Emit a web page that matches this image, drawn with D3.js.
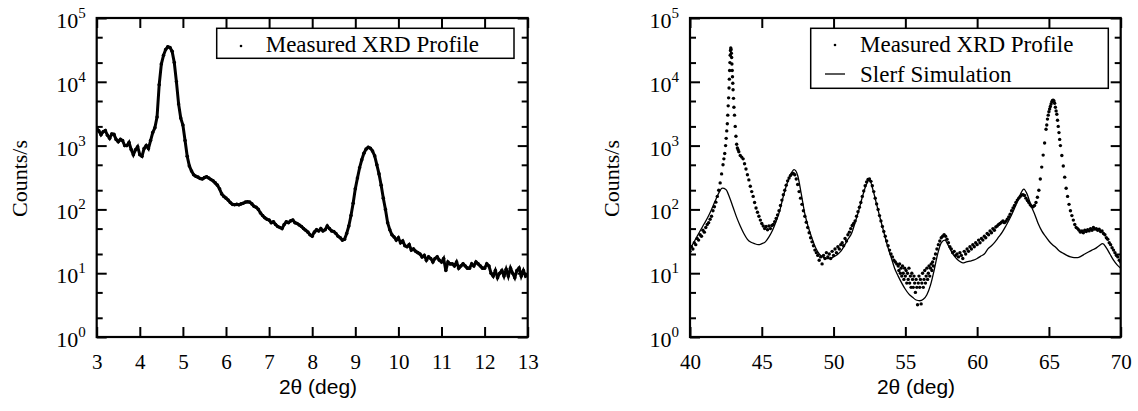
<!DOCTYPE html>
<html>
<head>
<meta charset="utf-8">
<script src="https://cdn.jsdelivr.net/npm/d3@7"></script>
<style>
  body { margin: 0; background: #fff; }
  svg { display: block; }
  .serif { font-family: "Liberation Serif", "Times New Roman", serif; }
  .sans { font-family: "Liberation Sans", Arial, sans-serif; }
</style>
</head>
<body>
<div id="chart"></div>
<script>
// ---- data ----
// left panel: measured profile, 3..13 deg every 0.05 deg (counts/s)
const lowAngleStart = 3, lowAngleStep = 0.05;
const lowAngleCounts = [
  1850, 1700, 1480, 1650, 1720, 1450, 1300, 1520, 1500, 1250,
  1150, 1250, 1200, 1000, 1000, 1120, 870, 720, 860, 960,
  720, 680, 900, 1000, 900, 1200, 1600, 1900, 2800, 9000,
  19000, 26000, 32000, 35500, 34500, 30000, 20000, 10000, 4500, 2700,
  2100, 1200, 680, 480, 400, 350, 330, 320, 305, 300,
  315, 325, 310, 295, 280, 260, 240, 210, 175, 160,
  150, 140, 128, 120, 118, 120, 118, 122, 125, 130,
  132, 130, 122, 112, 108, 100, 88, 80, 74, 70,
  68, 62, 64, 58, 54, 52, 50, 58, 64, 62,
  66, 68, 62, 60, 57, 54, 50, 47, 44, 40,
  38, 44, 48, 46, 50, 46, 48, 55, 50, 46,
  45, 42, 38, 36, 33, 34, 42, 55, 80, 125,
  210, 310, 450, 600, 760, 880, 940, 910, 820, 690,
  500, 360, 240, 150, 100, 62, 48, 40, 37, 33,
  36, 30, 32, 27, 26, 28, 23, 24, 22, 21,
  20, 18, 19, 16, 18, 17, 15, 17, 18, 16,
  15, 17, 11, 15, 14, 14, 13, 15, 12, 13,
  14, 13, 12, 12, 14, 13, 15, 14, 13, 12,
  12, 14, 13, 10, 9, 11, 8.5, 10, 11, 9,
  11.5, 9, 12, 10, 8.5, 11, 12, 9, 11, 9,
  9.5
];

// right panel: measured profile [2theta, counts/s]
const highAngleMeasured = [
  [40.0,22],[40.1,26],[40.2,24],[40.3,30],[40.4,28],[40.5,35],[40.6,33],[40.7,40],[40.8,38],[40.9,47],
  [41.0,44],[41.1,52],[41.2,58],[41.3,62],[41.4,70],[41.5,78],[41.6,95],[41.7,110],[41.8,130],[41.9,160],
  [42.0,200],[42.1,260],[42.2,360],[42.3,500],[42.36,620],[42.42,750],[42.48,1000],[42.52,1300],[42.56,1700],[42.6,2200],
  [42.63,3000],[42.66,4200],[42.69,5600],[42.72,8000],[42.74,11000],[42.76,15000],[42.78,20000],[42.8,26000],[42.82,31000],[42.84,34000],
  [42.86,32000],[42.88,28000],[42.9,24000],[42.92,19000],[42.94,15000],[42.96,12000],[42.98,9500],[43.0,7500],[43.03,5500],[43.06,4000],
  [43.1,3000],[43.15,2000],[43.2,1400],[43.25,1050],[43.3,920],[43.35,860],[43.4,800],[43.5,700],[43.6,660],[43.7,620],
  [43.8,520],[43.9,430],[44.0,350],[44.1,290],[44.2,230],[44.3,190],[44.4,160],[44.5,128],[44.6,105],[44.7,90],
  [44.8,78],[44.9,68],[45.0,60],[45.1,55],[45.2,50],[45.3,54],[45.4,48],[45.5,55],[45.6,50],[45.7,56],
  [45.8,58],[45.9,64],[46.0,72],[46.1,82],[46.2,95],[46.3,115],[46.4,140],[46.5,170],[46.6,200],[46.7,240],
  [46.8,280],[46.9,310],[47.0,340],[47.1,360],[47.2,365],[47.3,350],[47.4,300],[47.5,245],[47.6,190],[47.7,150],
  [47.8,120],[47.9,95],[48.0,78],[48.1,63],[48.2,52],[48.3,43],[48.4,36],[48.5,31],[48.6,27],[48.7,23],
  [48.8,21],[48.9,19],[49.0,16],[49.1,18],[49.2,14],[49.3,19],[49.4,17],[49.5,21],[49.6,18],[49.7,20],
  [49.8,17],[49.9,22],[50.0,19],[50.1,24],[50.2,21],[50.3,26],[50.4,24],[50.5,28],[50.6,30],[50.7,27],
  [50.8,35],[50.9,32],[51.0,40],[51.1,44],[51.2,50],[51.3,56],[51.4,60],[51.5,66],[51.6,78],[51.7,92],
  [51.8,108],[51.9,128],[52.0,160],[52.1,195],[52.2,235],[52.3,270],[52.4,295],[52.5,300],[52.6,275],[52.7,235],
  [52.8,190],[52.9,150],[53.0,122],[53.1,100],[53.2,80],[53.3,66],[53.4,54],[53.5,45],[53.6,38],[53.7,32],
  [53.8,27],[53.9,23],[54.0,20],[54.1,18],[54.2,16],[54.3,15],[54.4,14],[54.5,13],[54.55,11],[54.6,14],
  [54.65,10],[54.7,12],[54.75,9],[54.8,13],[54.85,10],[54.9,8],[54.95,12],[55.0,9],[55.05,11],[55.1,7],
  [55.15,10],[55.2,8],[55.25,12],[55.3,7],[55.35,9],[55.4,6],[55.45,10],[55.5,8],[55.55,6],[55.6,9],
  [55.65,7],[55.7,5],[55.75,8],[55.8,6],[55.85,3.2],[55.9,7],[55.95,9],[56.0,6],[56.05,8],[56.1,3.3],
  [56.15,7],[56.2,10],[56.25,6],[56.3,8],[56.35,11],[56.4,7],[56.45,9],[56.5,12],[56.55,8],[56.6,10],
  [56.65,13],[56.7,9],[56.75,12],[56.8,14],[56.85,11],[56.9,15],[56.95,13],[57.0,17],[57.1,20],[57.2,24],
  [57.3,28],[57.4,32],[57.5,36],[57.6,38],[57.7,40],[57.8,38],[57.9,34],[58.0,30],[58.1,26],[58.2,24],
  [58.3,21],[58.4,22],[58.5,19],[58.6,20],[58.7,18],[58.8,21],[58.9,19],[59.0,17],[59.1,22],[59.2,20],
  [59.3,24],[59.4,22],[59.5,26],[59.6,24],[59.7,28],[59.8,26],[59.9,30],[60.0,28],[60.1,33],[60.2,30],
  [60.3,35],[60.4,33],[60.5,38],[60.6,36],[60.7,42],[60.8,40],[60.9,46],[61.0,43],[61.1,50],[61.2,47],
  [61.3,53],[61.4,55],[61.5,58],[61.6,60],[61.7,63],[61.8,66],[61.9,62],[62.0,65],[62.1,70],[62.2,76],
  [62.3,84],[62.4,95],[62.5,105],[62.6,115],[62.7,128],[62.8,140],[62.9,150],[63.0,160],[63.1,168],[63.2,170],
  [63.3,165],[63.4,150],[63.5,138],[63.6,128],[63.7,118],[63.8,112],[63.9,110],[64.0,115],[64.1,128],[64.2,155],
  [64.3,200],[64.4,300],[64.5,460],[64.6,710],[64.7,1100],[64.8,1800],[64.85,2100],[64.9,2600],[64.95,3000],[65.0,3400],
  [65.05,3750],[65.1,4100],[65.15,4500],[65.2,4850],[65.25,5100],[65.3,5150],[65.35,5000],[65.4,4600],[65.45,4000],[65.5,3500],
  [65.55,3100],[65.6,2500],[65.65,2000],[65.7,1600],[65.75,1250],[65.8,1000],[65.9,700],[66.0,480],[66.1,320],[66.2,215],
  [66.3,160],[66.4,120],[66.5,95],[66.6,80],[66.7,68],[66.8,58],[66.9,52],[67.0,50],[67.1,47],[67.2,44],
  [67.3,46],[67.4,43],[67.5,47],[67.6,45],[67.7,48],[67.8,46],[67.9,50],[68.0,47],[68.1,52],[68.2,49],
  [68.3,50],[68.4,47],[68.5,49],[68.6,45],[68.7,46],[68.8,42],[68.9,40],[69.0,36],[69.1,34],[69.2,30],
  [69.3,28],[69.4,25],[69.5,23],[69.6,21],[69.7,19],[69.8,18],[69.9,16],[70.0,15]
];

// right panel: Slerf simulation, 40..70 deg every 0.25 deg
const simStart = 40, simStep = 0.25;
const simCounts = [
  24, 30, 38, 48, 60, 76, 100, 135, 180, 215,
  205, 155, 108, 75, 55, 42, 34, 30.5, 29, 28,
  29, 31, 37, 47, 65, 95, 160, 250, 350, 420,
  340, 175, 85, 52, 35, 25, 20, 18, 17, 17,
  18, 19.5, 22, 27, 34, 42, 62, 95, 155, 235,
  290, 200, 120, 72, 44, 27, 18, 12, 9, 7,
  5.6, 4.7, 4.2, 3.8, 3.7, 3.9, 4.6, 6.5, 11, 20,
  30, 33, 27, 21, 17.5, 15.5, 14.5, 15, 15.5, 16,
  17, 18.5, 20, 24, 27, 31, 37, 44, 55, 70,
  92, 125, 170, 208, 170, 115, 85, 60, 46, 38,
  32, 28, 25, 22, 20.5, 19, 18, 17.5, 17.5, 18.5,
  20, 21.5, 23, 24.5, 27, 29, 25, 20, 16, 13.5,
  12
];

const leftTicksX = [3, 4, 5, 6, 7, 8, 9, 10, 11, 12, 13];
const rightTicksX = [40, 45, 50, 55, 60, 65, 70];
const decades = [0, 1, 2, 3, 4, 5];
const minorY = [2, 5, 20, 50, 200, 500, 2000, 5000, 20000, 50000];

const width = 1138, height = 411;
const svg = d3.select("#chart").append("svg")
  .attr("width", width).attr("height", height);

const plotTop = 18, plotBottom = 337;

function panel(opts) {
  const x = d3.scaleLinear().domain(opts.domain).range([opts.left, opts.right]);
  const y = d3.scaleLog().domain([1, 1e5]).range([plotBottom, plotTop]);
  const g = svg.append("g");

  const clipId = "clip" + opts.id;
  svg.append("clipPath").attr("id", clipId)
    .append("rect").attr("x", opts.left).attr("y", plotTop)
    .attr("width", opts.right - opts.left).attr("height", plotBottom - plotTop);

  // axes, ticks pointing inwards
  const majorY = decades.map(e => Math.pow(10, e));
  g.append("g").attr("transform", `translate(0,${plotBottom})`)
    .call(d3.axisBottom(x).tickValues(opts.ticks).tickSize(-10).tickSizeOuter(0).tickPadding(17))
    .call(a => a.select(".domain").remove())
    .call(a => a.selectAll("text").attr("class", "serif").style("font-size", "21px").attr("fill", "#000"));
  g.append("g").attr("transform", `translate(0,${plotTop})`)
    .call(d3.axisTop(x).tickValues(opts.ticks).tickSize(-10).tickSizeOuter(0).tickFormat(""))
    .call(a => a.select(".domain").remove());
  [[d3.axisLeft, opts.left], [d3.axisRight, opts.right]].forEach(([ax, pos]) => {
    g.append("g").attr("transform", `translate(${pos},0)`)
      .call(ax(y).tickValues(majorY).tickSize(-10).tickSizeOuter(0).tickFormat(""))
      .call(a => a.select(".domain").remove());
    g.append("g").attr("transform", `translate(${pos},0)`)
      .call(ax(y).tickValues(minorY).tickSize(-6).tickSizeOuter(0).tickFormat(""))
      .call(a => a.select(".domain").remove());
  });
  g.selectAll(".tick line").attr("stroke", "#000").attr("stroke-width", 2);

  // y labels 10^n
  const lab = g.append("g").attr("class", "serif");
  decades.forEach(e => {
    const t = lab.append("text")
      .attr("x", opts.left - 11).attr("y", y(Math.pow(10, e)) + 10)
      .attr("text-anchor", "end").style("font-size", "22px");
    t.append("tspan").text("10");
    t.append("tspan").attr("dy", -10).style("font-size", "15px").text(e);
  });

  // frame
  g.append("rect").attr("x", opts.left).attr("y", plotTop)
    .attr("width", opts.right - opts.left).attr("height", plotBottom - plotTop)
    .attr("fill", "none").attr("stroke", "#000").attr("stroke-width", 2.2);

  // titles
  g.append("text").attr("class", "serif").style("font-size", "22px")
    .attr("transform", `translate(${opts.ytitleX},${(plotTop + plotBottom) / 2 + 1}) rotate(-90)`)
    .attr("text-anchor", "middle").text("Counts/s");
  g.append("text").attr("class", "sans").style("font-size", "21px")
    .attr("x", opts.xtitleX).attr("y", 394).attr("text-anchor", "middle").text("2θ (deg)");

  const plot = svg.append("g").attr("clip-path", `url(#${clipId})`);
  return { x, y, g, plot };
}

// ---- left panel ----
const L = panel({ id: "L", domain: [3, 13], left: 96.7, right: 527.7, ticks: leftTicksX, ytitleX: 27, xtitleX: 318 });
const lowData = lowAngleCounts.map((c, i) => [lowAngleStart + i * lowAngleStep, c]);
L.plot.append("path").datum(lowData)
  .attr("fill", "none").attr("stroke", "#000").attr("stroke-width", 3)
  .attr("d", d3.line().x(d => L.x(d[0])).y(d => L.y(d[1])));
L.plot.selectAll("circle").data(lowData).join("circle")
  .attr("cx", d => L.x(d[0])).attr("cy", d => L.y(d[1])).attr("r", 1.8).attr("fill", "#000");

// legend left
const lg = svg.append("g");
lg.append("rect").attr("x", 216.7).attr("y", 28.3).attr("width", 297.3).attr("height", 30)
  .attr("fill", "#fff").attr("stroke", "#000").attr("stroke-width", 1.5);
lg.append("circle").attr("cx", 241).attr("cy", 46).attr("r", 1.3).attr("fill", "#000");
lg.append("text").attr("class", "serif").style("font-size", "23px")
  .attr("x", 265.7).attr("y", 52).text("Measured XRD Profile");

// ---- right panel ----
const R = panel({ id: "R", domain: [40, 70], left: 690, right: 1120.7, ticks: rightTicksX, ytitleX: 619, xtitleX: 916 });
const simData = simCounts.map((c, i) => [simStart + i * simStep, c]);
R.plot.append("path").datum(simData)
  .attr("fill", "none").attr("stroke", "#000").attr("stroke-width", 1.3)
  .attr("d", d3.line().curve(d3.curveMonotoneX).x(d => R.x(d[0])).y(d => R.y(d[1])));
R.plot.selectAll("circle").data(highAngleMeasured).join("circle")
  .attr("cx", d => R.x(d[0])).attr("cy", d => R.y(d[1])).attr("r", 1.7).attr("fill", "#000");

// legend right
const rg = svg.append("g");
rg.append("rect").attr("x", 810.7).attr("y", 28.3).attr("width", 297.6).attr("height", 60)
  .attr("fill", "#fff").attr("stroke", "#000").attr("stroke-width", 1.5);
rg.append("circle").attr("cx", 835).attr("cy", 45).attr("r", 1.3).attr("fill", "#000");
rg.append("line").attr("x1", 825).attr("x2", 845).attr("y1", 74).attr("y2", 74)
  .attr("stroke", "#000").attr("stroke-width", 1.3);
rg.append("text").attr("class", "serif").style("font-size", "23px")
  .attr("x", 860).attr("y", 52).text("Measured XRD Profile");
rg.append("text").attr("class", "serif").style("font-size", "23px")
  .attr("x", 860).attr("y", 82).text("Slerf Simulation");
</script>
</body>
</html>
